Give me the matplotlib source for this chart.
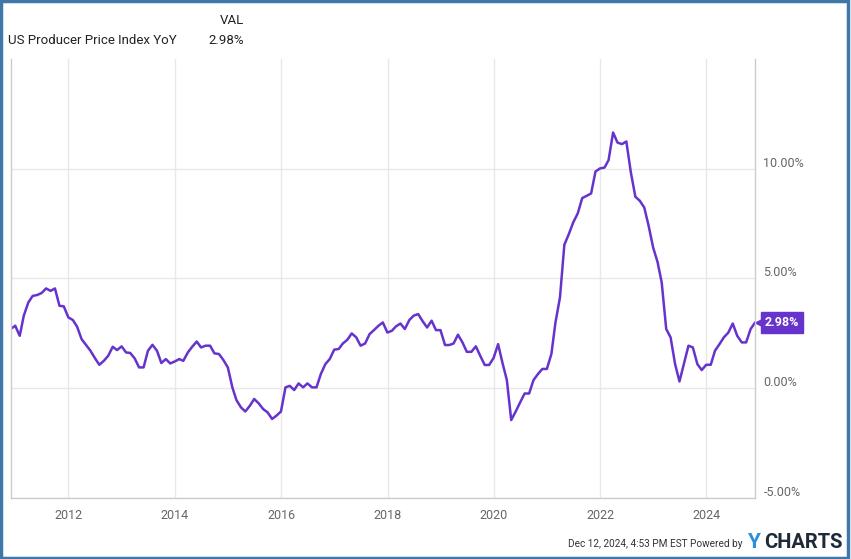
import pandas as pd
import numpy as np
import matplotlib
matplotlib.use("Agg")
import matplotlib.pyplot as plt
import matplotlib.dates as mdates
import matplotlib.transforms as mtransforms
from matplotlib.patches import Rectangle

plt.rcParams['font.family'] = ['Roboto', 'DejaVu Sans']

# ----------------------------------------
# Data (monthly, US PPI YoY %, Nov 2010 - Nov 2024)
# ----------------------------------------
ppi_yoy = [
    2.69, 2.84, 2.38, 3.30, 3.90, 4.20, 4.24, 4.33, 4.54, 4.43, 4.54, 3.75, 3.72,
    3.22, 3.10, 2.80, 2.23, 1.97, 1.70, 1.37, 1.06, 1.24, 1.47, 1.88, 1.73,
    1.90, 1.62, 1.60, 1.35, 0.94, 0.94, 1.70, 1.97, 1.70, 1.14, 1.32, 1.12,
    1.21, 1.32, 1.24, 1.62, 1.88, 2.12, 1.85, 1.93, 1.93, 1.58, 1.55, 1.28,
    0.94, 0.03, -0.55, -0.88, -1.07, -0.81, -0.50, -0.70, -0.96, -1.11, -1.41, -1.26,
    -1.07, 0.03, 0.10, -0.09, 0.21, 0.03, 0.21, 0.03, 0.03, 0.64, 1.09, 1.32,
    1.75, 1.78, 2.03, 2.20, 2.49, 2.31, 1.93, 2.03, 2.46, 2.64, 2.84, 2.99,
    2.53, 2.61, 2.81, 2.94, 2.69, 3.10, 3.30, 3.37, 3.04, 2.76, 3.07, 2.64,
    2.64, 1.96, 1.96, 2.03, 2.43, 2.08, 1.65, 1.65, 1.90, 1.47, 1.05, 1.05,
    1.37, 2.00, 1.17, 0.36, -1.46, -1.07, -0.66, -0.25, -0.25, 0.36, 0.64, 0.87,
    0.87, 1.55, 2.99, 4.13, 6.53, 7.02, 7.55, 7.96, 8.66, 8.76, 8.87, 9.87,
    10.01, 10.05, 10.39, 11.65, 11.19, 11.12, 11.24, 9.83, 8.72, 8.54, 8.23, 7.40,
    6.41, 5.73, 4.81, 2.69, 2.31, 1.09, 0.30, 1.12, 1.93, 1.85, 1.09, 0.82,
    1.06, 1.06, 1.70, 2.00, 2.31, 2.53, 2.94, 2.38, 2.08, 2.08, 2.69, 2.98,
]
dates = pd.date_range("2010-11-30", periods=len(ppi_yoy), freq="ME")

y_ticks = [-5, 0, 5, 10]
x_tick_years = [2012, 2014, 2016, 2018, 2020, 2022, 2024]

series_name = "US Producer Price Index YoY"
footer_text = "Dec 12, 2024, 4:53 PM EST Powered by"

# ----------------------------------------
# Styling
# ----------------------------------------
LINE_COLOR = '#6633cc'
GRID_COLOR = '#e8e8e8'
SPINE_COLOR = '#cccccc'
TICK_COLOR = '#666666'

W, H = 851, 559
fig = plt.figure(figsize=(W / 100, H / 100), dpi=100)
fig.patch.set_facecolor('white')

left, right, top, bottom = 10.7, 755, 59, 497.7
ax = fig.add_axes([left / W, 1 - bottom / H, (right - left) / W, (bottom - top) / H])

ax.plot(dates, ppi_yoy, color=LINE_COLOR, linewidth=1.8, solid_joinstyle='round')

ax.set_xlim(dates[0], dates[-1])
ax.set_ylim(-5, 15)

# gridlines
ax.set_yticks(y_ticks)
ax.set_xticks([pd.Timestamp(f"{yr}-01-01") for yr in x_tick_years])
ax.xaxis.set_major_formatter(mdates.DateFormatter('%Y'))
ax.grid(True, color=GRID_COLOR, linewidth=1.0)
ax.set_axisbelow(True)

# y labels on the right, slightly above the gridline
ax.yaxis.tick_right()
ax.tick_params(axis='y', length=0)
ax.set_yticklabels([])
for v in y_ticks:
    ax.annotate(f"{v:.2f}%", xy=(1, v), xycoords=('axes fraction', 'data'),
                xytext=(6, 4), textcoords='offset points', ha='left', va='center',
                fontsize=9, color=TICK_COLOR, annotation_clip=False)
ax.tick_params(axis='x', length=0, pad=8, labelsize=9, labelcolor=TICK_COLOR)

for side in ['left', 'right', 'bottom']:
    ax.spines[side].set_color(SPINE_COLOR)
    ax.spines[side].set_linewidth(1.0)
ax.spines['top'].set_visible(False)

# last value tag (pointer tip sits on the last point)
last_date, last_val = dates[-1], ppi_yoy[-1]
shifted = mtransforms.offset_copy(ax.transData, fig=fig, x=3.5, y=0, units='points')
ax.plot([last_date], [last_val], marker='<', markersize=8, color=LINE_COLOR,
        clip_on=False, markeredgewidth=0, transform=shifted)
ax.annotate(f"{last_val:.2f}%", xy=(last_date, last_val), xytext=(7, 0),
            textcoords='offset points', ha='left', va='center', fontsize=9,
            fontweight='bold', color='white', annotation_clip=False,
            bbox=dict(boxstyle='square,pad=0.3', fc=LINE_COLOR, ec=LINE_COLOR))

# header
fig.text(244 / W, 1 - 20 / H, "VAL", ha='right', va='center', fontsize=9.5, color='#222222')
fig.text(8 / W, 1 - 40 / H, series_name, ha='left', va='center', fontsize=9.5, color='#222222')
fig.text(244 / W, 1 - 40 / H, f"{last_val:.2f}%", ha='right', va='center',
         fontsize=9.5, color='#222222')

# footer
fig.text(743 / W, 1 - 544 / H, footer_text, ha='right', va='center', fontsize=7.2, color='#333333')
fig.text(747 / W, 1 - 543 / H, "Y", ha='left', va='center', fontsize=15,
         fontweight='bold', color='#2b8fd9')
fig.text(764 / W, 1 - 543 / H, "CHARTS", ha='left', va='center', fontsize=14.5,
         fontweight='bold', color='#1e2a38')

# outer border
fig.patches.append(Rectangle((0.0015, 0.002), 0.9955, 0.9955, transform=fig.transFigure,
                             fill=False, edgecolor='#3f77a8', linewidth=2.5))

plt.savefig("out.png", dpi=100)
